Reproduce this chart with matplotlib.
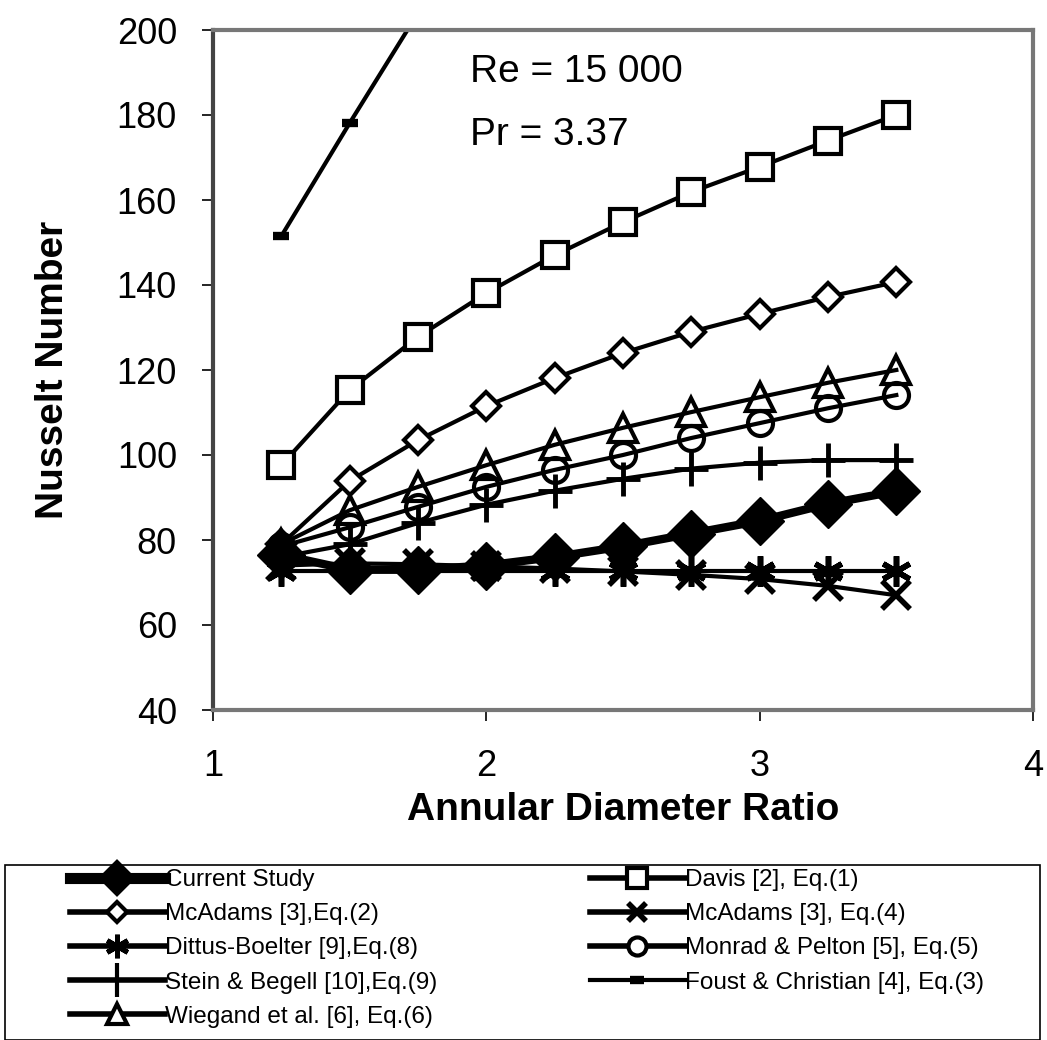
import numpy as np
import matplotlib
matplotlib.use('Agg')
import matplotlib.pyplot as plt
from matplotlib.patches import Rectangle
from matplotlib.lines import Line2D

plt.rcParams['font.family'] = ['Liberation Sans', 'DejaVu Sans']

# data
ratio = [1.25, 1.5, 1.75, 2.0, 2.25, 2.5, 2.75, 3.0, 3.25, 3.5]
current = [76.5, 73.0, 73.0, 74.0, 76.0, 78.5, 81.5, 84.5, 88.5, 91.5]
davis = [97.6, 115.3, 127.8, 138.1, 147.0, 154.8, 161.9, 167.8, 174.0, 180.0]
mcadams2 = [79.0, 93.9, 103.5, 111.5, 118.1, 124.0, 129.0, 133.2, 137.2, 140.7]
mcadams4 = [74.0, 74.5, 74.3, 73.8, 73.3, 72.6, 71.8, 70.8, 69.2, 67.0]
dittus = [72.8] * 10
monrad = [78.5, 83.0, 87.8, 92.5, 96.5, 100.0, 104.0, 107.5, 111.0, 114.1]
stein = [76.0, 79.0, 84.0, 88.3, 91.6, 94.4, 96.8, 98.2, 98.8, 98.8]
foust = [151.5, 178.1, 204.0, 228.0, 250.0, 270.0, 289.0, 307.0, 324.0, 340.0]
wiegand = [79.0, 87.0, 92.5, 97.6, 102.4, 106.4, 110.1, 113.6, 117.0, 120.0]

W, H = 1047.0, 1040.0
fig = plt.figure(figsize=(W / 100, H / 100), dpi=100)
ax = fig.add_axes([213 / W, 1 - 710 / H, (1033 - 213) / W, 680 / H])

lw = 3.0
k = 'black'
ax.plot(ratio, current, color=k, lw=6, marker='D', ms=24, mfc=k, mec=k, zorder=5)
ax.plot(ratio, davis, color=k, lw=lw, marker='s', ms=19, mfc='white', mec=k, mew=3)
ax.plot(ratio, mcadams2, color=k, lw=lw, marker='D', ms=14, mfc='white', mec=k, mew=3)
ax.plot(ratio, mcadams4, color=k, lw=lw, marker='x', ms=20, mec=k, mew=4)
ax.plot(ratio, dittus, color=k, lw=lw, marker=(6, 2, 0), ms=22, mec=k, mew=4)
ax.plot(ratio, monrad, color=k, lw=lw, marker='o', ms=18, mfc='none', mec=k, mew=3)
ax.plot(ratio, stein, color=k, lw=lw, marker='+', ms=24, mec=k, mew=3.5)
ax.plot(ratio, foust, color=k, lw=lw, marker='_', ms=11, mec=k, mew=6)
ax.plot(ratio, wiegand, color=k, lw=lw, marker='^', ms=20, mfc='none', mec=k, mew=3)

ax.set_xlim(1, 4)
ax.set_ylim(40, 200)
ax.set_xticks([1, 2, 3, 4])
ax.set_yticks(np.arange(40, 201, 20))
ax.tick_params(labelsize=26, length=8, width=1.2, direction='out')
ax.tick_params(axis='y', pad=18)
ax.tick_params(axis='x', pad=20)
for s in ax.spines.values():
    s.set_color('#777777')
    s.set_linewidth(3)
ax.spines['left'].set_color('#444444')

ax.set_xlabel('Annular Diameter Ratio', fontsize=28, fontweight='bold')
ax.set_ylabel('Nusselt Number', fontsize=28, fontweight='bold')
ax.xaxis.set_label_coords(0.5, -0.12)
ax.yaxis.set_label_coords(-0.173, 0.5)

ax.text(0.314, 0.938, 'Re = 15 000', transform=ax.transAxes, fontsize=28, va='center')
ax.text(0.314, 0.846, 'Pr = 3.37', transform=ax.transAxes, fontsize=28, va='center')

# legend: frame drawn separately, two columns as two legends
fig.patches.append(Rectangle((5 / W, 0.0), 1035 / W, 175 / H, transform=fig.transFigure,
                             fill=False, edgecolor='black', linewidth=1.2))


def proxy(marker, ms, lw=4.0, mfc='white', mew=3.0):
    return Line2D([], [], color=k, lw=lw, marker=marker, ms=ms, mfc=mfc, mec=k, mew=mew)


col1 = [(proxy('D', 16, lw=8, mfc=k), 'Current Study'),
        (proxy('D', 10), 'McAdams [3],Eq.(2)'),
        (proxy((6, 2, 0), 17, mew=3.5), 'Dittus-Boelter [9],Eq.(8)'),
        (proxy('|', 24, mew=3), 'Stein & Begell [10],Eq.(9)'),
        (proxy('^', 15), 'Wiegand et al. [6], Eq.(6)')]
col2 = [(proxy('s', 14), 'Davis [2], Eq.(1)'),
        (proxy('x', 13, mew=4), 'McAdams [3], Eq.(4)'),
        (proxy('o', 13), 'Monrad & Pelton [5], Eq.(5)'),
        (proxy('_', 10, lw=3, mew=6), 'Foust & Christian [4], Eq.(3)')]

lprop = {'family': 'Liberation Sans', 'size': 17.5}
for col, x0 in [(col1, 70), (col2, 590)]:
    leg = fig.legend([c[0] for c in col], [c[1] for c in col],
                     loc='upper left', bbox_to_anchor=(x0 / W, 1 - 869 / H),
                     frameon=False, handlelength=3.9, handletextpad=0.0,
                     borderpad=0.0, borderaxespad=0.0, labelspacing=0.5, prop=lprop)

plt.savefig('out.png', dpi=100)
